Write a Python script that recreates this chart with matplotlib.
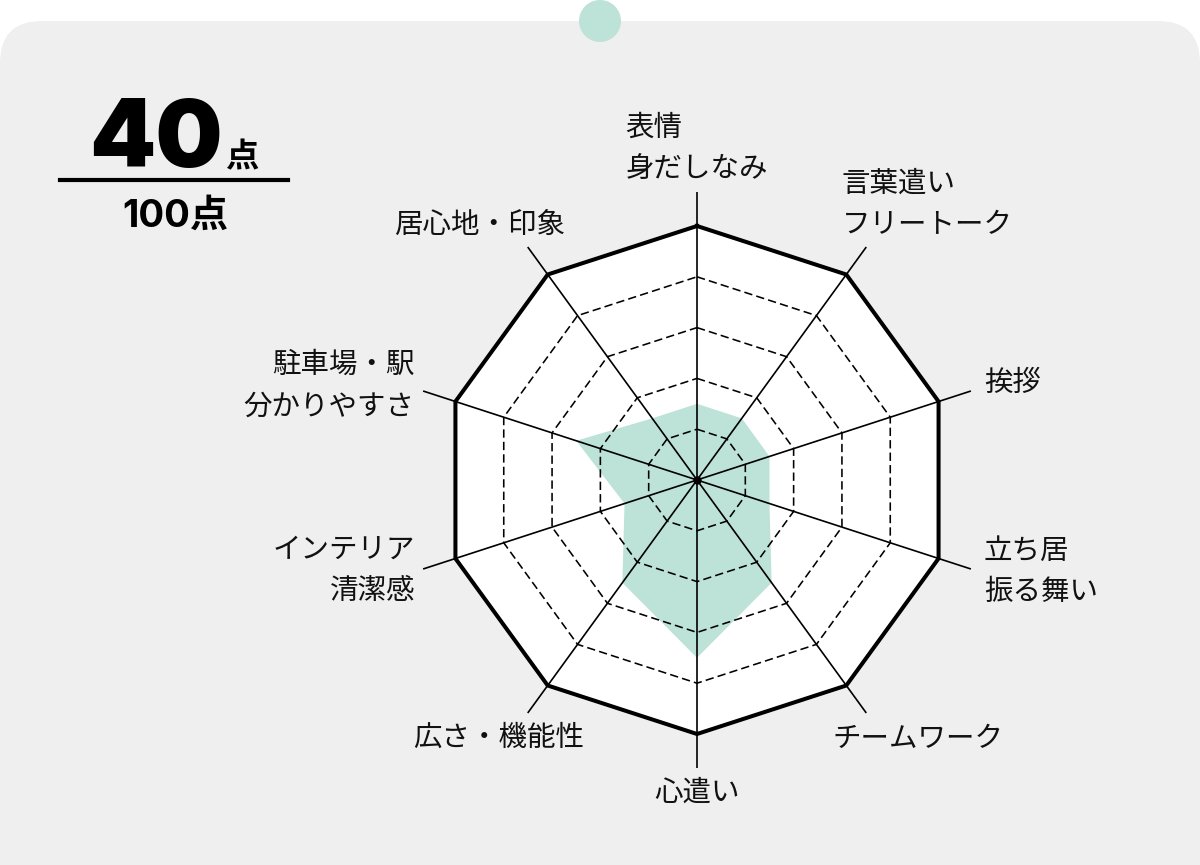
import numpy as np
import matplotlib
matplotlib.use("Agg")
import matplotlib.pyplot as plt
from matplotlib.patches import FancyBboxPatch, Circle

plt.rcParams['font.family'] = ['Noto Sans CJK JP', 'DejaVu Sans']

# ---------------- data ----------------
categories = ['表情\n身だしなみ', '言葉遣い\nフリートーク', '挨拶', '立ち居\n振る舞い',
              'チームワーク', '心遣い', '広さ・機能性', 'インテリア\n清潔感',
              '駐車場・駅\n分かりやすさ', '居心地・印象']
values = [3, 3, 3, 3, 5, 7, 5, 3, 5, 3]
levels = [2, 4, 6, 8, 10]
score_text = '40'
unit_text = '点'
total_text = '100点'

# ---------------- styling ----------------
W, H = 1200, 865
BG_GRAY = '#efefef'
TEAL = '#bde2d7'
FS = 20.5

fig = plt.figure(figsize=(W / 100, H / 100), dpi=100)
fig.patch.set_facecolor('white')

def fx(x):
    return x / W

def fy(y):
    return 1 - y / H

# rounded gray card
card = FancyBboxPatch((0, -1.0), 12.0, (H - 21) / 100 + 1.0,
                      boxstyle='round,pad=0,rounding_size=0.42',
                      transform=fig.dpi_scale_trans, facecolor=BG_GRAY,
                      edgecolor='none', zorder=-2)
fig.patches.append(card)
dot = Circle((6.0, (H - 21) / 100), 0.21, transform=fig.dpi_scale_trans,
             facecolor=TEAL, edgecolor='none', zorder=-1)
fig.patches.append(dot)

# score block
fig.text(fx(223), fy(167), score_text, ha='right', va='baseline',
         fontsize=68, fontweight='black', family=['Inter', 'DejaVu Sans'],
         color='black')
fig.text(fx(226), fy(167), unit_text, ha='left', va='baseline',
         fontsize=24, fontweight='bold', family=['Noto Sans CJK JP'],
         color='black')
fig.add_artist(plt.Line2D([fx(60), fx(288)], [fy(180), fy(180)],
                          transform=fig.transFigure, color='black', lw=3.0))
fig.text(fx(175), fy(227), total_text, ha='center', va='baseline',
         fontsize=27.5, fontweight='bold', family=['Inter', 'Noto Sans CJK JP'],
         color='black')

# ---------------- radar ----------------
CX, CY, R_OUT, R_SPOKE = 697, 480, 254, 288
rmax = levels[-1] * R_SPOKE / R_OUT
ax = fig.add_axes([fx(CX - R_SPOKE), fy(CY + R_SPOKE),
                   2 * R_SPOKE / W, 2 * R_SPOKE / H], projection='polar')
ax.set_zorder(2)
ax.set_theta_offset(np.pi / 2)
ax.set_theta_direction(-1)
ax.set_ylim(0, rmax)
ax.axis('off')

n = len(categories)
theta = np.arange(n) * 2 * np.pi / n
theta_c = np.append(theta, theta[0])

# white inside of outer polygon
outer = np.full(n + 1, levels[-1])
ax.fill(theta_c, outer, color='white', zorder=1, lw=0)

# data polygon
vals_c = np.append(values, values[0])
ax.fill(theta_c, vals_c, color=TEAL, zorder=2, lw=0)

# rings
for lv in levels[:-1]:
    ln, = ax.plot(theta_c, np.full(n + 1, lv), color='black', lw=1.15, zorder=3)
    ln.set_dashes((5.2, 2.6))
ax.plot(theta_c, outer, color='black', lw=2.9, zorder=4, solid_joinstyle='miter')

# spokes
for t in theta:
    ax.plot([t, t], [0, rmax], color='black', lw=1.2, zorder=4,
            solid_capstyle='butt', clip_on=False)
ax.plot([0], [0], marker='o', ms=5, color='black', zorder=5)

# labels: (offset px from spoke end, ha, ma)
label_pos = [
    ((0, 43.5), 'center', 'left'),
    ((-24.5, 42.5), 'left', 'left'),
    ((13.5, 8.3), 'left', 'left'),
    ((13.0, -2.5), 'left', 'left'),
    ((-33.5, -26.0), 'left', 'left'),
    ((0, -25.0), 'center', 'center'),
    ((56.0, -25.0), 'right', 'right'),
    ((-8.0, -1.0), 'right', 'right'),
    ((-8.5, 5.0), 'right', 'right'),
    ((37.0, 22.5), 'right', 'right'),
]
for t, lab, (off, ha, ma) in zip(theta, categories, label_pos):
    ax.annotate(lab, xy=(t, rmax), xytext=off, textcoords='offset pixels',
                ha=ha, va='center', multialignment=ma, fontsize=FS,
                linespacing=1.5, color='#111111', annotation_clip=False,
                zorder=6)

fig.savefig('out.png', dpi=100, facecolor=fig.get_facecolor())
